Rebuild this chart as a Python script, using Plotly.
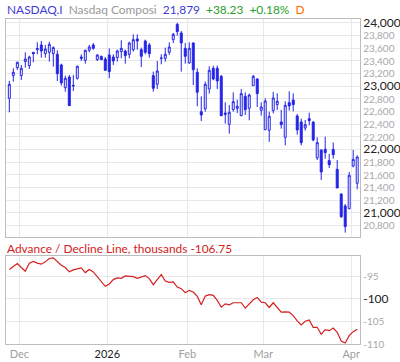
import pandas as pd
import plotly.graph_objects as go

# ---- data -------------------------------------------------------------
holidays = ["2025-11-27", "2025-12-25", "2026-01-01", "2026-01-19",
            "2026-02-16", "2026-04-03"]
dates = [d.strftime("%Y-%m-%d") for d in
         pd.bdate_range("2025-11-25", "2026-04-02", freq="C", holidays=holidays)]

opens = [22806, 23164, 23290, 23164, 23385, 23322, 23532, 23574, 23648, 23511,
         23532, 23511, 23500, 23332, 22974, 23143, 23010, 23122, 23458, 23406,
         23564, 23648, 23416, 23469, 23427, 23490, 23458, 23448, 23543, 23553,
         23500, 23574, 23743, 23574, 23711, 23648, 23164, 23027, 23435, 23437,
         23532, 23732, 23974, 23837, 23595, 23364, 23679, 23216, 22595, 22637,
         22953, 23280, 23280, 23153, 22574, 22395, 22627, 22648, 22532, 22837,
         22648, 23006, 23111, 22616, 22311, 22301, 22611, 22706, 22432, 22190,
         22737, 22779, 22527, 22432, 22337, 22485, 22432, 21864, 21990, 22000,
         21822, 22000, 21685, 21295, 21106, 21064, 21737, 21464]
highs = [23079, 23280, 23385, 23332, 23532, 23479, 23532, 23690, 23711, 23648,
         23700, 23627, 23564, 23353, 23164, 23174, 23174, 23322, 23500, 23574,
         23648, 23679, 23500, 23479, 23458, 23595, 23500, 23574, 23722, 23574,
         23700, 23816, 23816, 23606, 23732, 23679, 23227, 23395, 23500, 23606,
         23690, 23837, 23995, 23869, 23679, 23690, 23690, 23280, 22837, 23069,
         23311, 23322, 23322, 23174, 22743, 22700, 22900, 22785, 22953, 22900,
         22880, 23174, 23122, 22743, 22806, 22595, 22906, 22885, 22622, 22758,
         22916, 22885, 22558, 22485, 22464, 22579, 22443, 22190, 22000, 22200,
         21927, 22106, 21832, 21306, 21137, 21643, 21990, 21906]
lows = [22585, 23069, 23253, 23095, 23290, 23269, 23374, 23500, 23448, 23448,
        23385, 23306, 23079, 23006, 22911, 22690, 22921, 23101, 23395, 23353,
        23532, 23574, 23395, 23416, 23237, 23122, 23332, 23385, 23437, 23353,
        23437, 23543, 23574, 23300, 23500, 23448, 22911, 22953, 23343, 23385,
        23490, 23679, 23795, 23227, 23353, 23353, 23016, 22680, 22448, 22595,
        22879, 23090, 22953, 22522, 22406, 22248, 22595, 22574, 22522, 22543,
        22459, 23006, 22669, 22532, 22301, 22120, 22569, 22622, 22327, 22064,
        22611, 22600, 22232, 22064, 22295, 22379, 22127, 21832, 21516, 21853,
        21706, 21853, 21390, 20916, 20685, 21053, 21716, 21369]
closes = [23027, 23216, 23374, 23280, 23427, 23458, 23511, 23590, 23553, 23585,
          23658, 23606, 23195, 23048, 23122, 22690, 23002, 23311, 23437, 23564,
          23616, 23595, 23490, 23416, 23248, 23227, 23395, 23553, 23595, 23479,
          23679, 23732, 23711, 23469, 23532, 23511, 22964, 23237, 23440, 23500,
          23616, 23816, 23858, 23679, 23469, 23595, 23258, 22901, 22543, 23027,
          23248, 23111, 23079, 22532, 22553, 22585, 22753, 22680, 22880, 22627,
          22858, 23153, 22880, 22669, 22764, 22522, 22811, 22758, 22390, 22695,
          22685, 22706, 22306, 22106, 22390, 22453, 22148, 22106, 21643, 21948,
          21758, 21916, 21390, 20937, 20780, 21590, 21841, 21879]

ad_line = [-93.51, -92.77, -92.17, -93.06, -93.88, -92.09, -91.72, -92.09, -92.32, -91.80,
           -91.05, -90.90, -91.80, -92.54, -93.06, -94.03, -93.59, -93.44, -93.14, -94.18,
           -93.51, -94.03, -95.15, -96.27, -97.24, -96.72, -95.75, -95.37, -95.45, -94.93,
           -95.08, -95.08, -95.45, -95.15, -94.85, -95.52, -96.87, -95.75, -94.63, -96.05,
           -96.34, -96.27, -97.39, -97.76, -98.66, -98.13, -98.51, -99.48, -101.34, -99.40,
           -99.10, -99.25, -100.37, -101.86, -101.12, -101.34, -100.89, -100.89, -100.89, -102.09,
           -101.12, -100.22, -99.70, -100.74, -100.89, -101.94, -100.89, -102.01, -102.98, -102.91,
           -102.98, -103.73, -104.92, -105.81, -105.00, -104.70, -106.34, -106.34, -107.90, -106.86,
           -107.08, -106.49, -107.46, -109.39, -109.84, -108.20, -107.31, -106.75]

price_ticks = list(range(20800, 24001, 200))
ad_ticks = [-95, -100, -105, -110]
month_labels = ["Dec", "2026", "Feb", "Mar", "Apr"]

# ---- figure -------------------------------------------------------------
BLUE = "#2323e8"
RED = "#d42020"
GRID = "#e8e8e8"
BORDER = "#bdbdbd"
FONT = "Lato, 'Open Sans', sans-serif"

idx = list(range(len(dates)))

# month boundaries (first trading day of each month, shifted half a slot)
month_pos = []
for i in range(1, len(dates)):
    if dates[i][5:7] != dates[i - 1][5:7]:
        month_pos.append(i - 0.5)

fig = go.Figure()
fig.add_trace(go.Candlestick(
    x=idx, open=opens, high=highs, low=lows, close=closes,
    text=dates, hoverinfo="text+y",
    increasing=dict(line=dict(color=BLUE, width=1), fillcolor="white"),
    decreasing=dict(line=dict(color=BLUE, width=1), fillcolor=BLUE),
    whiskerwidth=0, showlegend=False, xaxis="x", yaxis="y"))
fig.add_trace(go.Scatter(
    x=idx, y=ad_line, mode="lines", line=dict(color=RED, width=1.2),
    text=dates, showlegend=False, xaxis="x2", yaxis="y2"))


def ptxt(v):
    s = f"{v:,}"
    if v % 1000 == 0:
        return f'<span style="color:#222;font-size:12px">{s}</span>'
    return f'<span style="color:#a8a8a8;font-size:10px">{s}</span>'


def adtxt(v):
    if v == -100:
        return f'<span style="color:#222;font-size:12px">{v}</span>'
    return f'<span style="color:#a8a8a8;font-size:10px">{v}</span>'


def mtxt(s):
    if s.isdigit():
        return f'<span style="color:#222">{s}</span>'
    return f'<span style="color:#a0a0a0">{s}</span>'


xr = [-0.83, len(dates) - 0.3]
common_x = dict(range=xr, showgrid=True, gridcolor=GRID, gridwidth=1,
                tickvals=month_pos, showline=True, linecolor=BORDER, mirror=True,
                zeroline=False, ticks="", fixedrange=True, automargin=False)

fig.update_layout(
    width=400, height=362,
    margin=dict(l=6, r=40, t=19, b=18, autoexpand=False),
    paper_bgcolor="white", plot_bgcolor="white",
    font=dict(family=FONT, size=11, color="#333"),
    xaxis=dict(**common_x, domain=[0, 1], anchor="y", showticklabels=False,
               rangeslider=dict(visible=False)),
    yaxis=dict(domain=[0.3292, 1], range=[20616, 24058], side="right",
               tickvals=price_ticks, ticktext=[ptxt(v) for v in price_ticks],
               showgrid=True, gridcolor=GRID, showline=True, linecolor=BORDER,
               mirror=True, zeroline=False, ticks="", anchor="x", automargin=False),
    xaxis2=dict(**common_x, domain=[0, 1], anchor="y2",
                ticktext=[mtxt(s) for s in month_labels],
                tickfont=dict(size=11)),
    yaxis2=dict(domain=[0, 0.2708], range=[-110.05, -90.5], side="right",
                tickvals=ad_ticks, ticktext=[adtxt(v) for v in ad_ticks],
                showgrid=True, gridcolor=GRID, showline=True, linecolor=BORDER,
                mirror=True, zeroline=False, ticks="", anchor="x2", automargin=False),
)

header = (f'<span style="color:#3b3bd6">NASDAQ.I</span>  '
          f'<span style="color:#999">Nasdaq Composi</span>  '
          f'<span style="color:#3b3bd6">{closes[-1]:,}</span>  '
          f'<span style="color:#2aa02a">+38.23  +0.18%</span>  '
          f'<span style="color:#ff6a00">D</span>')
fig.add_annotation(text=header, xref="paper", yref="paper", x=0, y=1.028,
                   xanchor="left", yanchor="middle", showarrow=False,
                   xshift=-1, font=dict(size=11.9, family=FONT))
fig.add_annotation(text=f"Advance / Decline Line, thousands {ad_line[-1]}",
                   xref="paper", yref="paper", x=0, y=0.295,
                   xanchor="left", yanchor="middle", showarrow=False,
                   xshift=-1, font=dict(size=11.9, family=FONT, color=RED))

fig.write_html("out.html", config={"displayModeBar": False},
               post_script="document.body.style.margin='0';")
